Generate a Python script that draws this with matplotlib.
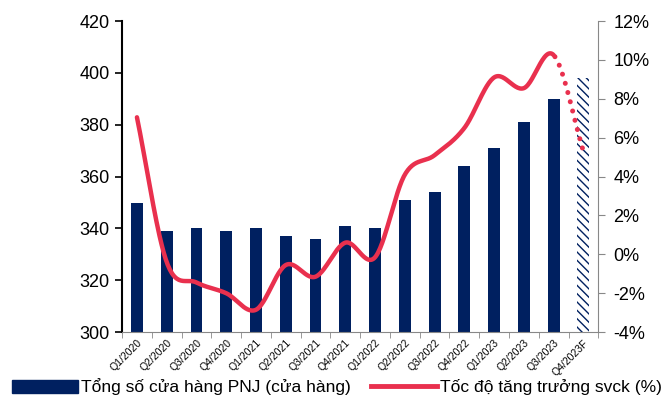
import matplotlib
matplotlib.use("Agg")
import matplotlib.pyplot as plt
import numpy as np
from matplotlib.patches import Patch
from matplotlib.lines import Line2D
from matplotlib.ticker import FuncFormatter

QUARTERS = ["Q1/2020", "Q2/2020", "Q3/2020", "Q4/2020", "Q1/2021", "Q2/2021", "Q3/2021", "Q4/2021",
            "Q1/2022", "Q2/2022", "Q3/2022", "Q4/2022", "Q1/2023", "Q2/2023", "Q3/2023", "Q4/2023F"]
STORES = [350, 339, 340, 339, 340, 337, 336, 341, 340, 351, 354, 364, 371, 381, 390, 398]
GROWTH = [7.05, -0.4, -1.45, -2.0, -2.85, -0.55, -1.15, 0.6, -0.15, 4.1, 5.1, 6.5, 9.1, 8.55, 10.25, 5.3]

NAVY = "#002060"
RED = "#E9304E"

plt.rcParams.update({"font.family": ["Liberation Sans", "DejaVu Sans"], "font.size": 13})


def smooth(x, y, n=30):
    # Catmull-Rom curve through the points, like Excel's smoothed line
    x = np.asarray(x, float)
    y = np.asarray(y, float)
    px = np.concatenate([[2 * x[0] - x[1]], x, [2 * x[-1] - x[-2]]])
    py = np.concatenate([[2 * y[0] - y[1]], y, [2 * y[-1] - y[-2]]])
    xs, ys = [], []
    t = np.linspace(0, 1, n)
    for i in range(1, len(px) - 2):
        for p, out in ((px, xs), (py, ys)):
            p0, p1, p2, p3 = p[i - 1], p[i], p[i + 1], p[i + 2]
            seg = 0.5 * ((2 * p1) + (-p0 + p2) * t + (2 * p0 - 5 * p1 + 4 * p2 - p3) * t ** 2
                         + (-p0 + 3 * p1 - 3 * p2 + p3) * t ** 3)
            out.append(seg if i == 1 else seg[1:])
    return np.concatenate(xs), np.concatenate(ys)


fig = plt.figure(figsize=(6.67, 4.05), dpi=100)
ax = fig.add_axes([0.183, 0.180, 0.714, 0.768])
x = np.arange(len(QUARTERS))

ax.bar(x[:-1], np.array(STORES[:-1]) - 300, bottom=300, width=0.4, color=NAVY, zorder=2)
ax.bar(x[-1:], np.array(STORES[-1:]) - 300, bottom=300, width=0.4, color="white",
       edgecolor=NAVY, linewidth=0, hatch="\\\\\\\\", zorder=2)

ax.set_ylim(300, 420)
ax.set_yticks(range(300, 421, 20))
ax.set_xlim(-0.5, len(QUARTERS) - 0.5)
ax.set_xticks(x)
ax.set_xticklabels(QUARTERS, rotation=45, ha="right", rotation_mode="anchor", fontsize=7.5)
ax.set_xticks(np.arange(-0.5, len(QUARTERS)), minor=True)
ax.tick_params(axis="x", which="major", length=0, pad=4)
ax.tick_params(axis="x", which="minor", length=4, color="#888888")
ax.tick_params(axis="y", length=5, width=1.2, pad=4)
ax.spines["top"].set_visible(False)
ax.spines["right"].set_visible(False)
ax.spines["left"].set_linewidth(1.5)
ax.spines["bottom"].set_color("#888888")

ax2 = ax.twinx()
ax2.set_ylim(-4, 12)
ax2.set_yticks(range(-4, 13, 2))
ax2.yaxis.set_major_formatter(FuncFormatter(lambda v, _: f"{v:.0f}%"))
ax2.tick_params(axis="y", length=5, color="#888888", pad=6)
for s in ["top", "left", "bottom"]:
    ax2.spines[s].set_visible(False)
ax2.spines["right"].set_color("#888888")

# last segment (Q3/2023 -> Q4/2023F) is a forecast, drawn dotted
sx, sy = smooth(x, GROWTH)
n_solid = 30 + (len(x) - 3) * 29
ax2.plot(sx[:n_solid], sy[:n_solid], color=RED, lw=3.2, solid_capstyle="round", zorder=3)
ax2.plot(sx[n_solid - 1:], sy[n_solid - 1:], color=RED, lw=3.6, linestyle=(1.5, (0.01, 1.9)),
         dash_capstyle="round", zorder=3)

handles = [Patch(facecolor=NAVY, edgecolor=NAVY), Line2D([], [], color=RED, lw=3.5)]
fig.legend(handles, ["Tổng số cửa hàng PNJ (cửa hàng)", "Tốc độ tăng trưởng svck (%)"],
           loc="lower center", bbox_to_anchor=(0.505, -0.015), ncol=2, frameon=False, fontsize=12.5,
           handlelength=3.8, handleheight=0.85, handletextpad=0.15, columnspacing=1.2)

fig.savefig("out.png", dpi=100)
